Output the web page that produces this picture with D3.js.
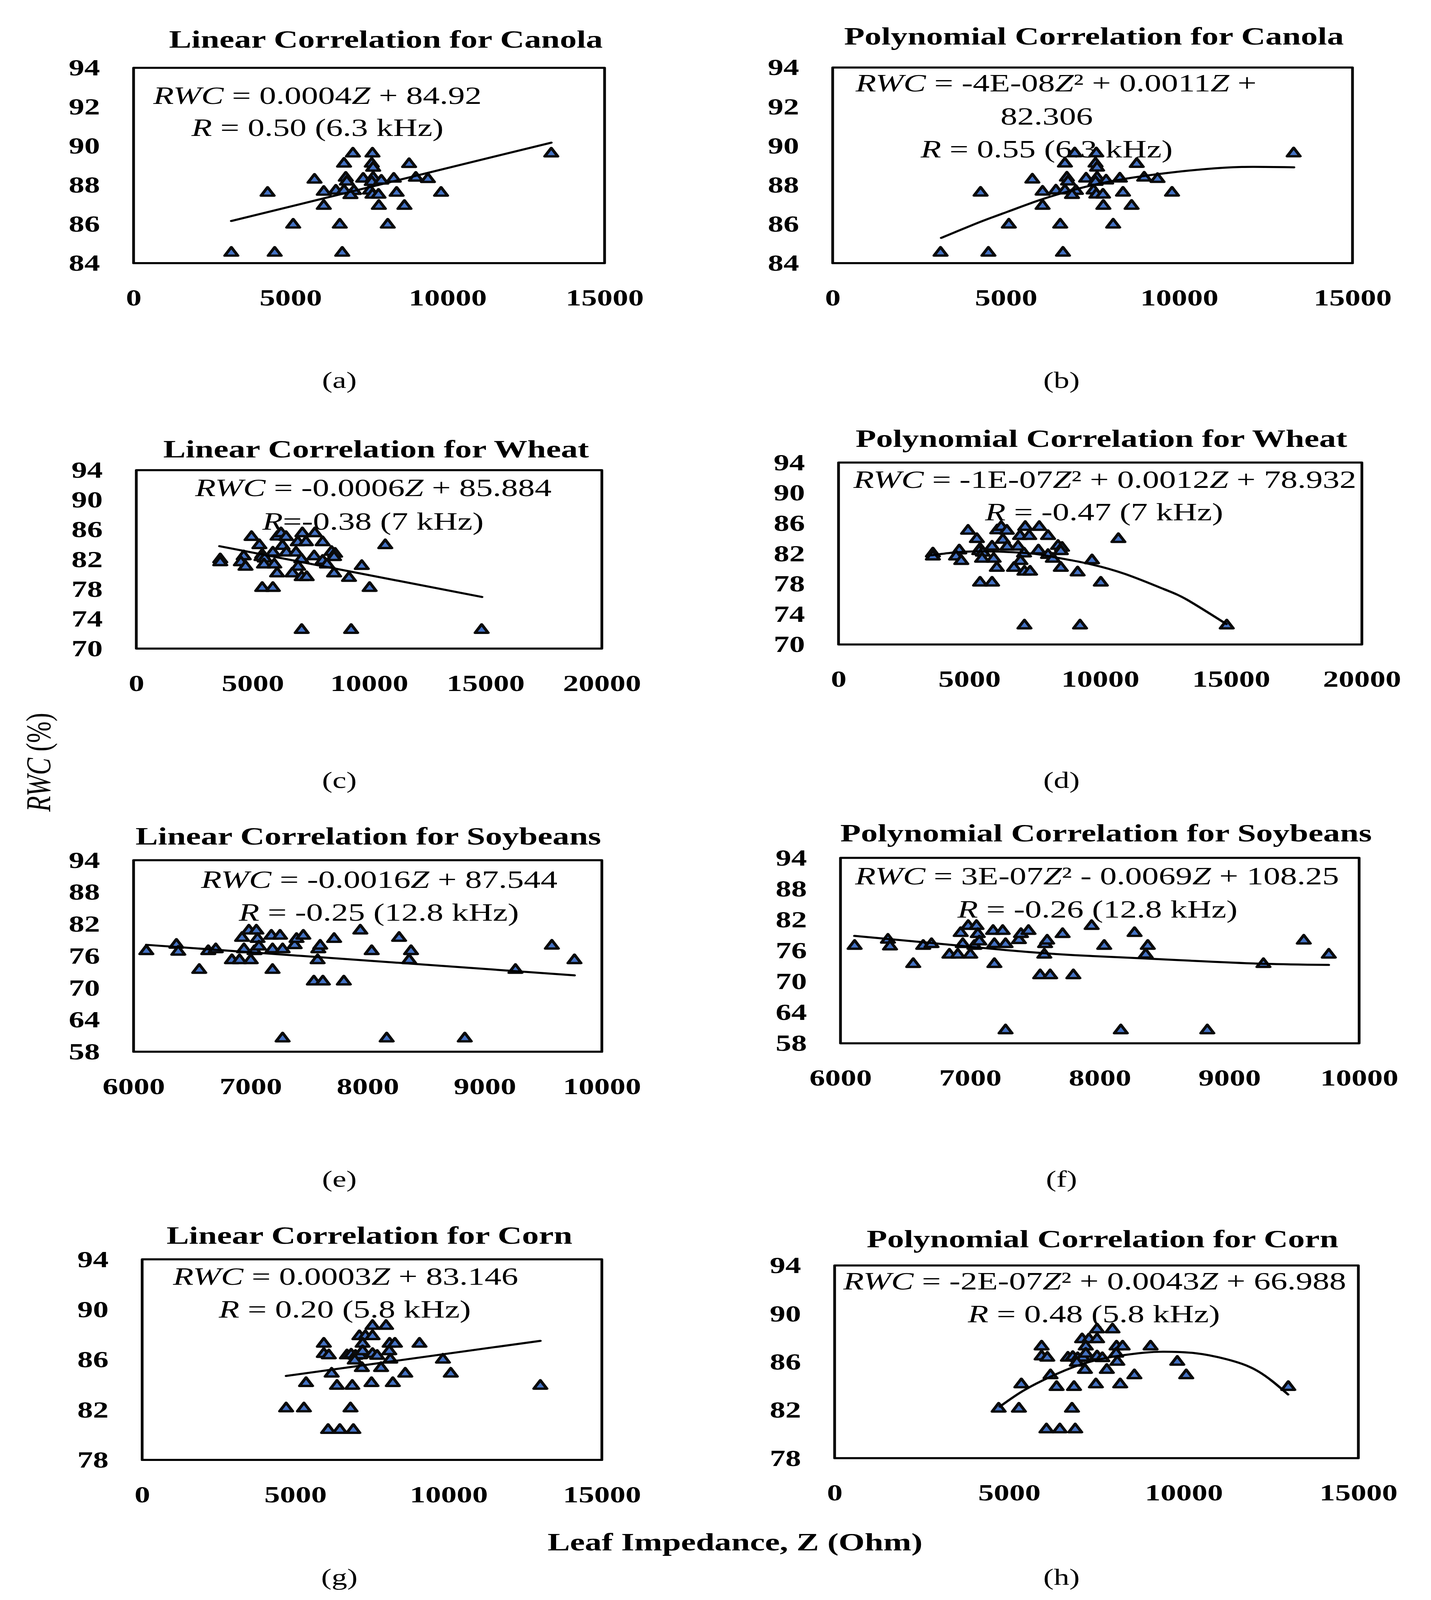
<!DOCTYPE html>
<html>
<head>
<meta charset="utf-8">
<script src="https://cdn.jsdelivr.net/npm/d3@7"></script>
<style>
  html, body { margin: 0; padding: 0; background: #ffffff; overflow: hidden; }
  svg { display: block; }
  text { font-family: "Liberation Serif", "Times New Roman", serif; fill: #000; }
</style>
</head>
<body>
<div id="chart"></div>
<script>
// ---------------- DATA ----------------
const canolaZ   = [6985,7608,13302,6702,7585,8774,7630,5762,6758,6792,7313,7630,7585,7891,8287,8989,9374,4268,6057,6442,6702,7019,6906,7528,7608,7800,8377,9792,6057,7811,8626,5083,6566,8094,3113,4494,6645];
const canolaRWC = [89.61,89.61,89.61,89.09,89.09,89.07,88.88,88.27,88.37,88.17,88.32,88.37,88.15,88.22,88.32,88.37,88.30,87.60,87.65,87.71,87.71,87.69,87.48,87.71,87.50,87.50,87.60,87.60,86.93,86.93,86.93,85.97,85.97,85.97,84.53,84.53,84.53];

const wheatZ   = [4950,6066,6219,6432,7135,7670,5287,6937,7288,8006,6280,10695,3606,3606,4614,5409,5378,5516,5867,6448,6860,7089,7640,8388,8541,8495,8006,8190,4492,4691,5485,5928,6952,9687,6050,6707,7105,7319,8495,9137,5409,5867,10023,7105,9229,14836];
const wheatRWC = [85.0,85.05,85.5,85.0,85.5,85.5,83.9,84.3,84.3,84.3,83.8,83.9,82.0,81.6,82.4,82.6,82.3,82.1,82.9,82.9,82.9,82.0,82.4,83.0,82.75,82.3,81.8,81.3,81.6,81.0,81.3,81.3,81.0,81.1,80.1,80.1,79.6,79.6,80.1,79.5,78.15,78.15,78.15,72.5,72.5,72.5];

const soyZ   = [6109,6366,6382,6561,6638,6702,6840,6905,7001,6927,6943,6985,7049,7059,7033,7071,7177,7251,7187,7273,7187,7376,7392,7450,7578,7594,7572,7713,7540,7617,7796,7937,8034,8268,8370,8354,9262,9573,9766,7273,8162,8829];
const soyRWC = [76.91,78.10,76.80,73.38,76.91,77.25,75.20,75.20,75.20,79.40,77.25,80.77,80.77,79.20,76.91,77.76,79.81,79.81,77.25,77.25,73.38,78.03,79.20,79.81,77.25,77.93,75.20,79.20,71.20,71.20,71.20,80.77,76.91,79.40,76.91,75.20,73.38,77.93,75.20,60.50,60.50,60.50];

const cornZ   = [7517,7958,7088,7285,7517,5928,7193,8074,8248,9049,5928,6091,6682,6821,6961,7111,7193,7517,7668,8063,6937,8097,9814,6183,7169,7796,8585,10070,5348,6357,6856,7483,8179,12993,4698,5278,6798,6067,6450,6891];
const cornRWC = [88.69,88.69,87.87,87.87,87.87,87.27,87.27,87.27,87.27,87.27,86.45,86.34,86.34,86.40,86.30,86.34,86.67,86.45,86.30,86.67,85.93,86.00,86.00,84.88,85.33,85.33,84.88,84.88,84.13,83.91,83.91,84.13,84.13,83.91,82.11,82.11,82.11,80.39,80.39,80.39];

// trend lines / curves
const canolaLinZ = [3113, 13302];
const canolaLinRWC = [86.16, 90.17];
const canolaPolyZ = [3133,4260,5049,5950,6739,7528,8430,9557,10684,11811,13310];
const canolaPolyRWC = [85.29,86.11,86.63,87.21,87.64,88.00,88.31,88.59,88.80,88.92,88.90];

const wheatLinZ = [3575, 14851];
const wheatLinRWC = [83.77, 76.94];
const wheatPolyZ = [3552,4373,5269,6463,7507,8254,9448,10940,12433,13328,14821];
const wheatPolyRWC = [81.76,82.12,82.29,82.20,81.95,81.51,80.73,79.31,77.30,75.88,72.69];

const soyLinZ = [6109, 9766];
const soyLinRWC = [78.10, 72.36];
const soyPolyZ = [6108,6386,6687,6988,7289,7590,7892,8343,8795,9277,9765];
const soyPolyRWC = [78.85,78.21,77.50,76.78,76.07,75.46,75.00,74.47,73.93,73.43,73.22];

const cornLinZ = [4698, 12993];
const cornLinRWC = [84.70, 87.50];
const cornPolyZ = [4732,5403,6186,6969,7864,8870,9430,10325,11220,12114,12987];
const cornPolyRWC = [82.28,83.60,84.77,85.70,86.37,86.76,86.84,86.72,86.22,85.24,83.29];

// axis tick labels
const canolaXTicks = [0, 5000, 10000, 15000];
const canolaYTicks = [84, 86, 88, 90, 92, 94];
const wheatXTicks = [0, 5000, 10000, 15000, 20000];
const wheatYTicks = [70, 74, 78, 82, 86, 90, 94];
const soyXTicks = [6000, 7000, 8000, 9000, 10000];
const soyYTicks = [58, 64, 70, 76, 82, 88, 94];
const cornXTicks = [0, 5000, 10000, 15000];
const cornYTicks = [78, 82, 86, 90, 94];

// texts
const titles = [
  "Linear Correlation for Canola", "Polynomial Correlation for Canola",
  "Linear Correlation for Wheat", "Polynomial Correlation for Wheat",
  "Linear Correlation for Soybeans", "Polynomial Correlation for Soybeans",
  "Linear Correlation for Corn", "Polynomial Correlation for Corn"
];
const panelLetters = ["(a)", "(b)", "(c)", "(d)", "(e)", "(f)", "(g)", "(h)"];
const equations = [
  [[["RWC",1],[" = 0.0004",0],["Z",1],[" + 84.92",0]], [["R",1],[" = 0.50 (6.3 kHz)",0]]],
  [[["RWC",1],[" = -4E-08",0],["Z",1],["²",0],[" + 0.0011",0],["Z",1],[" +",0]], [["82.306",0]], [["R",1],[" = 0.55 (6.3 kHz)",0]]],
  [[["RWC",1],[" = -0.0006",0],["Z",1],[" + 85.884",0]], [["R",1],["=-0.38 (7 kHz)",0]]],
  [[["RWC",1],[" = -1E-07",0],["Z",1],["²",0],[" + 0.0012",0],["Z",1],[" + 78.932",0]], [["R",1],[" = -0.47 (7 kHz)",0]]],
  [[["RWC",1],[" = -0.0016",0],["Z",1],[" + 87.544",0]], [["R",1],[" = -0.25 (12.8 kHz)",0]]],
  [[["RWC",1],[" = 3E-07",0],["Z",1],["²",0],[" - 0.0069",0],["Z",1],[" + 108.25",0]], [["R",1],[" = -0.26 (12.8 kHz)",0]]],
  [[["RWC",1],[" = 0.0003",0],["Z",1],[" + 83.146",0]], [["R",1],[" = 0.20 (5.8 kHz)",0]]],
  [[["RWC",1],[" = -2E-07",0],["Z",1],["²",0],[" + 0.0043",0],["Z",1],[" + 66.988",0]], [["R",1],[" = 0.48 (5.8 kHz)",0]]]
];
const xAxisTitle = "Leaf Impedance, Z (Ohm)";

// ---------------- LAYOUT ----------------
const W = 3664, H = 5472;
const panels = [
  {box:[342,232,1548,900],   xd:[0,15000], yd:[84,94], xt:canolaXTicks, yt:canolaYTicks, z:canolaZ, r:canolaRWC, tz:canolaLinZ, tr:canolaLinRWC, curve:false,
   title:[988,163], eq:[[813,356],[813,465]], letter:[869,1327]},
  {box:[2132,231,3463,900],  xd:[0,15000], yd:[84,94], xt:canolaXTicks, yt:canolaYTicks, z:canolaZ, r:canolaRWC, tz:canolaPolyZ, tr:canolaPolyRWC, curve:true,
   title:[2801,152], eq:[[2704,312],[2680,426],[2680,538]], letter:[2718,1327]},
  {box:[349,1608,1541,2218], xd:[0,20000], yd:[70,94], xt:wheatXTicks, yt:wheatYTicks, z:wheatZ, r:wheatRWC, tz:wheatLinZ, tr:wheatLinRWC, curve:false,
   title:[963,1565], eq:[[956,1697],[955,1811]], letter:[869,2695]},
  {box:[2147,1582,3487,2204],xd:[0,20000], yd:[70,94], xt:wheatXTicks, yt:wheatYTicks, z:wheatZ, r:wheatRWC, tz:wheatPolyZ, tr:wheatPolyRWC, curve:true,
   title:[2820,1528], eq:[[2829,1668],[2827,1779]], letter:[2718,2695]},
  {box:[342,2942,1541,3597], xd:[6000,10000], yd:[58,94], xt:soyXTicks, yt:soyYTicks, z:soyZ, r:soyRWC, tz:soyLinZ, tr:soyLinRWC, curve:false,
   title:[943,2888], eq:[[971,3036],[970,3149]], letter:[869,4059]},
  {box:[2152,2934,3480,3568],xd:[6000,10000], yd:[58,94], xt:soyXTicks, yt:soyYTicks, z:soyZ, r:soyRWC, tz:soyPolyZ, tr:soyPolyRWC, curve:true,
   title:[2832,2877], eq:[[2809,3024],[2810,3138]], letter:[2718,4059]},
  {box:[364,4307,1541,4993], xd:[0,15000], yd:[78,94], xt:cornXTicks, yt:cornYTicks, z:cornZ, r:cornRWC, tz:cornLinZ, tr:cornLinRWC, curve:false,
   title:[946,4253], eq:[[885,4394],[883,4506]], letter:[869,5420]},
  {box:[2137,4328,3478,4987],xd:[0,15000], yd:[78,94], xt:cornXTicks, yt:cornYTicks, z:cornZ, r:cornRWC, tz:cornPolyZ, tr:cornPolyRWC, curve:true,
   title:[2823,4266], eq:[[2803,4410],[2801,4522]], letter:[2718,5420]}
];

// fit the whole 3664x5472 drawing into the actual window
const vw = window.innerWidth || W, vh = window.innerHeight || H;
const svg = d3.select("#chart").append("svg")
  .attr("width", vw).attr("height", vh)
  .attr("viewBox", `0 0 ${W} ${H}`)
  .attr("preserveAspectRatio", "none");
svg.append("rect").attr("width", W).attr("height", H).attr("fill", "#fff");

const TITLE_FS = 86, EQ_FS = 86, TICK_FS = 80, LETTER_FS = 80;

panels.forEach((p, i) => {
  const [L, T, R, B] = p.box;
  const x = d3.scaleLinear().domain(p.xd).range([L, R]);
  const y = d3.scaleLinear().domain(p.yd).range([B, T]);
  const g = svg.append("g");

  g.append("rect").attr("x", L).attr("y", T).attr("width", R - L).attr("height", B - T)
    .attr("fill", "none").attr("stroke", "#000").attr("stroke-width", 7).attr("stroke-linejoin", "round");

  const yAxis = g.append("g").attr("transform", `translate(${L},0)`)
    .call(d3.axisLeft(y).tickValues(p.yt).tickSize(0).tickPadding(86).tickFormat(d3.format("d")));
  const xAxis = g.append("g").attr("transform", `translate(0,${B})`)
    .call(d3.axisBottom(x).tickValues(p.xt).tickSize(0).tickPadding(88).tickFormat(d3.format("d")));
  [yAxis, xAxis].forEach(a => {
    a.select(".domain").remove();
    a.selectAll("text").attr("font-family", "Liberation Serif, serif")
      .attr("font-size", TICK_FS).attr("font-weight", "bold").attr("fill", "#000");
  });

  g.append("text").attr("x", p.title[0]).attr("y", p.title[1])
    .attr("text-anchor", "middle").attr("font-size", TITLE_FS).attr("font-weight", "bold")
    .text(titles[i]);

  equations[i].forEach((line, k) => {
    const t = g.append("text").attr("x", p.eq[k][0]).attr("y", p.eq[k][1])
      .attr("text-anchor", "middle").attr("font-size", EQ_FS);
    line.forEach(seg => {
      t.append("tspan").attr("font-style", seg[1] ? "italic" : "normal").text(seg[0]);
    });
  });

  const sym = d3.symbol().type(d3.symbolTriangle).size(480);
  g.append("g").selectAll("path").data(p.z.map((v, j) => [v, p.r[j]])).join("path")
    .attr("d", sym)
    .attr("transform", d => `translate(${x(d[0])},${y(d[1])})`)
    .attr("fill", "#4472C4").attr("stroke", "#0a0a0a").attr("stroke-width", 8)
    .attr("stroke-linejoin", "round");

  const line = d3.line().x(d => x(d[0])).y(d => y(d[1]))
    .curve(p.curve ? d3.curveNatural : d3.curveLinear);
  g.append("path").datum(p.tz.map((v, j) => [v, p.tr[j]]))
    .attr("d", line).attr("fill", "none").attr("stroke", "#000").attr("stroke-width", 7)
    .attr("stroke-linecap", "round");

  svg.append("text").attr("x", p.letter[0]).attr("y", p.letter[1])
    .attr("text-anchor", "middle").attr("font-size", LETTER_FS).text(panelLetters[i]);
});

const yt = svg.append("text").attr("transform", "translate(128,2607) rotate(-90)")
  .attr("text-anchor", "middle").attr("font-size", 88);
yt.append("tspan").attr("font-style", "italic").text("RWC");
yt.append("tspan").text(" (%)");

svg.append("text").attr("x", 1882).attr("y", 5302).attr("text-anchor", "middle")
  .attr("font-size", 86).attr("font-weight", "bold").text(xAxisTitle);
</script>
</body>
</html>
